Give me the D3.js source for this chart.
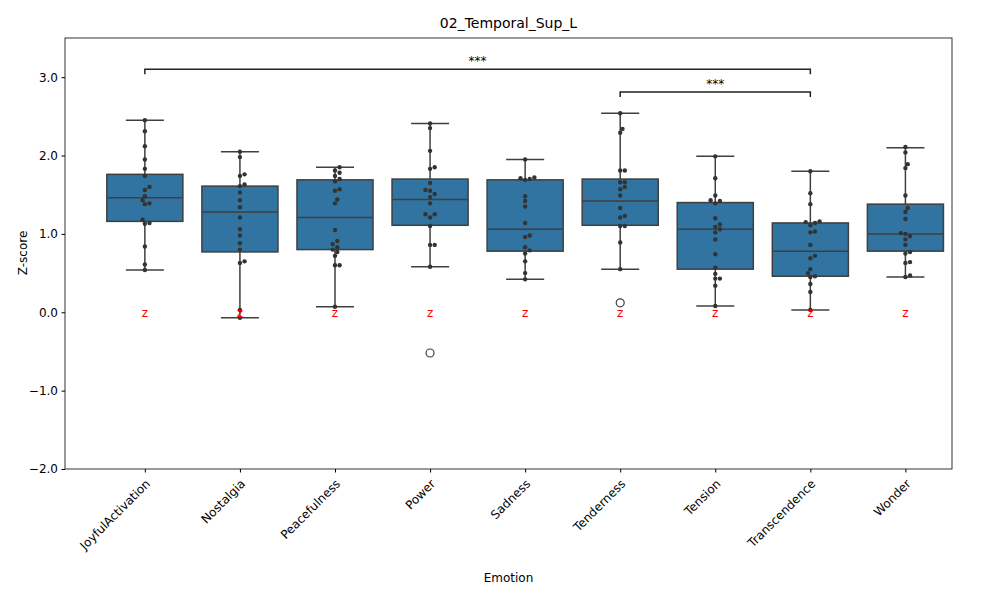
<!DOCTYPE html>
<html><head><meta charset="utf-8">
<script src="https://cdn.jsdelivr.net/npm/d3@7"></script>
<style>body{margin:0;background:#fff}text{font-family:"DejaVu Sans",sans-serif}</style>
</head><body><svg id="c" width="1000" height="600"></svg>
<script>
const categories=["JoyfulActivation","Nostalgia","Peacefulness","Power","Sadness","Tenderness","Tension","Transcendence","Wonder"];
const whiskerLo=[0.54,-0.07,0.07,0.58,0.42,0.55,0.08,0.03,0.45];
const q1=[1.16,0.77,0.80,1.11,0.78,1.11,0.55,0.46,0.78];
const median=[1.46,1.28,1.21,1.44,1.06,1.42,1.06,0.78,1.00];
const q3=[1.76,1.61,1.69,1.70,1.69,1.70,1.40,1.14,1.38];
const whiskerHi=[2.45,2.05,1.85,2.41,1.95,2.54,1.99,1.80,2.10];
const outliers=[[],[],[],[-0.52],[],[0.12],[],[],[]];
const points=[
[2.45,2.31,2.12,1.95,1.83,1.74,1.60,1.56,1.48,1.43,1.38,1.39,1.14,1.13,1.18,0.84,0.61,0.54],
[2.05,1.98,1.76,1.74,1.63,1.61,1.53,1.43,1.34,1.21,1.06,0.98,0.88,0.80,0.63,0.65,-0.07,0.03],
[1.85,1.81,1.78,1.74,1.70,1.67,1.57,1.55,1.44,1.39,1.05,0.91,0.87,0.83,0.80,0.77,0.72,0.60,0.60,0.07],
[2.41,2.35,2.06,1.85,1.83,1.65,1.56,1.55,1.51,1.47,1.39,1.25,1.21,1.25,1.10,0.86,0.86,0.58],
[1.95,1.72,1.69,1.71,1.70,1.48,1.42,1.35,1.14,0.98,0.96,0.83,0.79,0.75,0.65,0.50,0.42],
[2.54,2.34,2.29,1.81,1.81,1.66,1.66,1.60,1.57,1.49,1.33,1.23,1.21,1.10,1.10,0.89,0.55],
[1.99,1.71,1.49,1.43,1.42,1.39,1.20,1.12,1.09,1.06,1.02,0.93,0.74,0.57,0.49,0.43,0.43,0.34,0.08],
[1.80,1.52,1.38,1.15,1.16,1.14,1.11,1.03,1.02,0.86,0.72,0.69,0.55,0.50,0.46,0.45,0.36,0.26,0.03],
[2.11,2.04,1.89,1.84,1.49,1.33,1.28,1.19,1.01,0.97,1.00,0.93,0.86,0.77,0.75,0.64,0.63,0.47,0.45]];
const yTicks=[-2,-1,0,1,2,3];
const brackets=[{a:0,b:7,y:3.1,label:"***"},{a:5,b:7,y:2.81,label:"***"}];

const svg=d3.select("#c");
const L=65,R=952,T=38,B=469;
const x=d3.scaleLinear().domain([-0.84,8.49]).range([L,R]);
const y=d3.scaleLinear().domain([-2,3.5]).range([B,T]);
const bw=x(0.4)-x(0);
const line="#3f3f3f";
svg.append("text").attr("x",(L+R)/2).attr("y",28).attr("text-anchor","middle").attr("font-size",14).text("02_Temporal_Sup_L");
const ya=svg.append("g").attr("transform",`translate(${L},0)`).call(d3.axisLeft(y).tickValues(yTicks).tickSize(3.5).tickPadding(3.5));
const xa=svg.append("g").attr("transform",`translate(0,${B})`).call(d3.axisBottom(x).tickValues(d3.range(9)).tickFormat(i=>categories[i]).tickSize(3.5).tickPadding(3.5));
[ya,xa].forEach(g=>{g.select(".domain").remove();g.selectAll("text").attr("font-size",12).attr("fill","#000");});
xa.selectAll("text").attr("text-anchor","end").attr("dy","0.3em").attr("transform",function(){return "translate(-2,8) rotate(-45)";});
svg.append("rect").attr("x",L).attr("y",T).attr("width",R-L).attr("height",B-T).attr("fill","none").attr("stroke","#000").attr("stroke-width",0.8);
svg.append("text").attr("x",(L+R)/2).attr("y",582).attr("text-anchor","middle").attr("font-size",12).text("Emotion");
svg.append("text").attr("transform","translate(27,253) rotate(-90)").attr("text-anchor","middle").attr("font-size",12).text("Z-score");

categories.forEach((c,i)=>{
  const g=svg.append("g"), cx=x(i);
  g.append("line").attr("x1",cx).attr("x2",cx).attr("y1",y(whiskerLo[i])).attr("y2",y(q1[i])).attr("stroke",line).attr("stroke-width",1.5);
  g.append("line").attr("x1",cx).attr("x2",cx).attr("y1",y(whiskerHi[i])).attr("y2",y(q3[i])).attr("stroke",line).attr("stroke-width",1.5);
  [whiskerLo[i],whiskerHi[i]].forEach(v=>g.append("line").attr("x1",cx-bw/2).attr("x2",cx+bw/2).attr("y1",y(v)).attr("y2",y(v)).attr("stroke",line).attr("stroke-width",1.5));
  g.append("rect").attr("x",cx-bw).attr("width",2*bw).attr("y",y(q3[i])).attr("height",y(q1[i])-y(q3[i])).attr("fill","#3274a1").attr("stroke",line).attr("stroke-width",1.5);
  g.append("line").attr("x1",cx-bw).attr("x2",cx+bw).attr("y1",y(median[i])).attr("y2",y(median[i])).attr("stroke",line).attr("stroke-width",1.5);
  outliers[i].forEach(v=>{g.append("circle").attr("cx",cx).attr("cy",y(v)).attr("r",4).attr("fill","none").attr("stroke",line).attr("stroke-width",1.2);});
  // swarm
  const r=2.2, placed=[];
  points[i].slice().sort((a,b)=>a-b).forEach(v=>{
    const py=y(v); let off=0;
    const cand=[0];for(let k=1;k<10;k++){cand.push(k*r*1.05,-k*r*1.05);}
    for(const o of cand){ if(placed.every(p=>Math.hypot(p[0]-o,p[1]-py)>=2*r)){off=o;break;} }
    placed.push([off,py]);
  });
  placed.forEach(p=>g.append("circle").attr("cx",cx+p[0]).attr("cy",p[1]).attr("r",r).attr("fill","#333"));
  svg.append("text").attr("x",cx).attr("y",y(0)+5).attr("text-anchor","middle").attr("font-size",12).attr("fill","red").text("z");
});
brackets.forEach(b=>{
  const yy=y(b.y), d=5;
  svg.append("path").attr("d",`M${x(b.a)},${yy+d}V${yy}H${x(b.b)}V${yy+d}`).attr("fill","none").attr("stroke","#222").attr("stroke-width",1.5);
  svg.append("text").attr("x",(x(b.a)+x(b.b))/2).attr("y",yy-4).attr("text-anchor","middle").attr("font-size",12).text(b.label);
});
</script></body></html>
